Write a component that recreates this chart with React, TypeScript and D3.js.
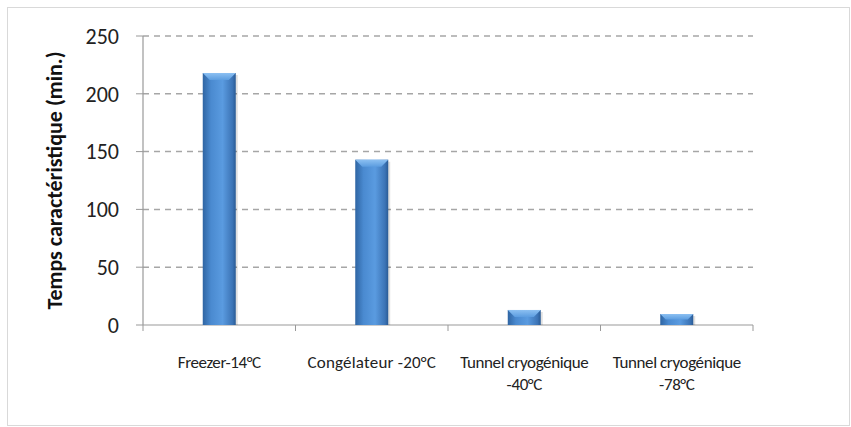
import React from 'react';
import * as d3 from 'd3';

const categories = [
  ['Freezer-14°C'],
  ['Congélateur -20°C'],
  ['Tunnel cryogénique', '-40°C'],
  ['Tunnel cryogénique', '-78°C'],
];
const values = [218, 143, 13, 9.5];
const yTicks = [0, 50, 100, 150, 200, 250];

const W = 851;
const H = 427;
const margin = { top: 36, right: 98, bottom: 102, left: 143 };
// some labels in the original are squeezed tighter than others
const labelSpacing = [-0.4, 0.2, -0.4, -0.4];

export default function App() {
  const chartW = W - margin.left - margin.right;
  const chartH = H - margin.top - margin.bottom;

  const x = d3.scaleBand<number>().domain(d3.range(values.length)).range([0, chartW]);
  const y = d3.scaleLinear().domain([0, 250]).range([chartH, 0]);
  const barW = 33;

  return (
    <svg width={W} height={H} style={{ position: 'absolute', left: 0, top: 0, background: '#fff' }}
      fontFamily="Carlito, 'Open Sans', 'DejaVu Sans', sans-serif">
      <defs>
        <linearGradient id="barGrad" x1="0" x2="1" y1="0" y2="0">
          <stop offset="0" stopColor="#2f65a3" />
          <stop offset="0.25" stopColor="#4a8ad0" />
          <stop offset="0.6" stopColor="#5a9be0" />
          <stop offset="0.9" stopColor="#3c74b6" />
          <stop offset="1" stopColor="#2a5b95" />
        </linearGradient>
        <linearGradient id="capGrad" x1="0" x2="0" y1="0" y2="1">
          <stop offset="0" stopColor="#8cc0f2" />
          <stop offset="1" stopColor="#5c9de0" />
        </linearGradient>
      </defs>
      <rect x={7.5} y={7.5} width={842} height={418} fill="none" stroke="#d9d9d9" />
      <g transform={`translate(${margin.left}, ${margin.top})`}>
        {yTicks.filter(t => t > 0).map(t => (
          <line key={t} x1={0} x2={chartW} y1={y(t)} y2={y(t)} stroke="#a6a6a6"
            strokeWidth={1.5} strokeDasharray="6,5" />
        ))}
        {yTicks.map(t => (
          <g key={t}>
            <line x1={-7} x2={0} y1={y(t)} y2={y(t)} stroke="#999" />
            <text x={-24} y={y(t)} dy="0.35em" textAnchor="end" fontSize={22} fill="#222">{t}</text>
          </g>
        ))}
        <line x1={0} x2={0} y1={0} y2={chartH} stroke="#999" strokeWidth={1.2} />
        <line x1={0} x2={chartW} y1={chartH} y2={chartH} stroke="#999" strokeWidth={1.2} />
        {d3.range(values.length + 1).map(i => (
          <line key={i} x1={i * x.step()} x2={i * x.step()} y1={chartH} y2={chartH + 6} stroke="#999" />
        ))}
        {values.map((v, i) => {
          const cx = (x(i) as number) + x.bandwidth() / 2;
          const top = y(v);
          const h = chartH - top;
          const cap = Math.min(7, h / 2);
          return (
            <g key={i}>
              <rect x={cx - barW / 2 + 2} y={top + 2} width={barW} height={h - 2} fill="#000" opacity={0.12} />
              <rect x={cx - barW / 2} y={top} width={barW} height={h} fill="url(#barGrad)" />
              <polygon
                points={`${cx - barW / 2},${top} ${cx + barW / 2},${top} ${cx + barW / 2 - cap},${top + cap} ${cx - barW / 2 + cap},${top + cap}`}
                fill="url(#capGrad)" />
            </g>
          );
        })}
        {categories.map((lines, i) => {
          const cx = (x(i) as number) + x.bandwidth() / 2;
          return (
            <text key={i} x={cx} y={chartH + 43} textAnchor="middle" fontSize={17} fill="#222"
              letterSpacing={labelSpacing[i]}>
              {lines.map((l, j) => (
                <tspan key={j} x={cx} dy={j === 0 ? 0 : 22}>{l}</tspan>
              ))}
            </text>
          );
        })}
      </g>
      <text transform={`translate(62, ${margin.top + chartH / 2}) rotate(-90)`} textAnchor="middle"
        fontSize={22} fontWeight="bold" fill="#111">Temps caractéristique (min.)</text>
    </svg>
  );
}
